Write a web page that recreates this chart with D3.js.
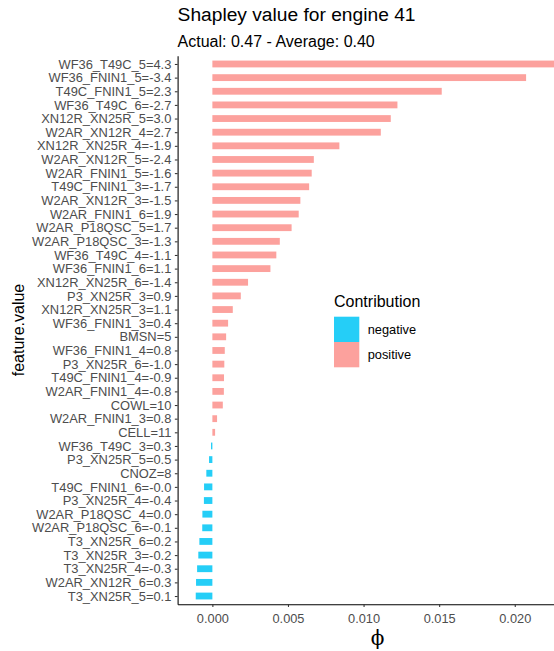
<!DOCTYPE html>
<html>
<head>
<meta charset="utf-8">
<script src="https://cdn.jsdelivr.net/npm/d3@7"></script>
<style>
  html, body { margin: 0; padding: 0; background: #fff; }
  svg { display: block; font-family: "Liberation Sans", Arial, Helvetica, sans-serif; }
</style>
</head>
<body>
<svg id="chart" width="554" height="651"></svg>
<script>
// Feature labels, top to bottom
const features = [
  "WF36_T49C_5=4.3", "WF36_FNIN1_5=-3.4", "T49C_FNIN1_5=2.3", "WF36_T49C_6=-2.7",
  "XN12R_XN25R_5=3.0", "W2AR_XN12R_4=2.7", "XN12R_XN25R_4=-1.9", "W2AR_XN12R_5=-2.4",
  "W2AR_FNIN1_5=-1.6", "T49C_FNIN1_3=-1.7", "W2AR_XN12R_3=-1.5", "W2AR_FNIN1_6=1.9",
  "W2AR_P18QSC_5=1.7", "W2AR_P18QSC_3=-1.3", "WF36_T49C_4=-1.1", "WF36_FNIN1_6=1.1",
  "XN12R_XN25R_6=-1.4", "P3_XN25R_3=0.9", "XN12R_XN25R_3=1.1", "WF36_FNIN1_3=0.4",
  "BMSN=5", "WF36_FNIN1_4=0.8", "P3_XN25R_6=-1.0", "T49C_FNIN1_4=-0.9",
  "W2AR_FNIN1_4=-0.8", "COWL=10", "W2AR_FNIN1_3=0.8", "CELL=11",
  "WF36_T49C_3=0.3", "P3_XN25R_5=0.5", "CNOZ=8", "T49C_FNIN1_6=-0.0",
  "P3_XN25R_4=-0.4", "W2AR_P18QSC_4=0.0", "W2AR_P18QSC_6=-0.1", "T3_XN25R_6=0.2",
  "T3_XN25R_3=-0.2", "T3_XN25R_4=-0.3", "W2AR_XN12R_6=0.3", "T3_XN25R_5=0.1"
];

// Shapley value (phi) of each feature, same order
const phi = [
  0.0228, 0.02075, 0.01517, 0.01224,
  0.01180, 0.01114, 0.00840, 0.00671,
  0.00657, 0.00640, 0.00582, 0.00571,
  0.00524, 0.00446, 0.00423, 0.00384,
  0.00236, 0.00188, 0.00135, 0.00104,
  0.00091, 0.00082, 0.00079, 0.00077,
  0.00076, 0.00069, 0.00031, 0.00018,
  -0.00009, -0.00022, -0.00040, -0.00055,
  -0.00056, -0.00066, -0.00067, -0.00086,
  -0.00093, -0.00101, -0.00108, -0.00110
];

const xTicks = [0, 0.005, 0.010, 0.015, 0.020];
const contributionLevels = ["negative", "positive"];
const contributionColors = ["#25CEF7", "#FCA19D"];

const titleText = "Shapley value for engine 41";
const subtitleText = "Actual: 0.47 - Average: 0.40";

const rows = features.map((f, i) => ({
  feature: f,
  phi: phi[i],
  contribution: phi[i] < 0 ? "negative" : "positive"
}));

const panel = { left: 177.6, right: 577.5, top: 55.8, bottom: 604.2 };

const svg = d3.select("#chart");

const x = d3.scaleLinear()
  .domain([-0.0023, 0.02415])
  .range([panel.left, panel.right]);

const y = d3.scalePoint()
  .domain(features)
  .range([panel.top, panel.bottom])
  .padding(0.6);

const barH = y.step() * 0.5;

const color = d3.scaleOrdinal()
  .domain(contributionLevels)
  .range(contributionColors);

// clip to the panel
svg.append("defs").append("clipPath").attr("id", "panelClip")
  .append("rect")
  .attr("x", panel.left).attr("y", panel.top)
  .attr("width", panel.right - panel.left)
  .attr("height", panel.bottom - panel.top);

// bars
svg.append("g")
  .attr("clip-path", "url(#panelClip)")
  .selectAll("rect")
  .data(rows)
  .join("rect")
  .attr("x", d => x(Math.min(0, d.phi)))
  .attr("width", d => Math.abs(x(d.phi) - x(0)))
  .attr("y", d => y(d.feature) - barH / 2)
  .attr("height", barH)
  .attr("fill", d => color(d.contribution));

// x axis
const xAxis = svg.append("g")
  .attr("transform", `translate(0,${panel.bottom})`)
  .call(d3.axisBottom(x).tickValues(xTicks).tickFormat(d3.format(".3f"))
    .tickSize(2.75).tickPadding(6.5).tickSizeOuter(0));
xAxis.select(".domain").attr("stroke", "#000").attr("stroke-width", 1.07);
xAxis.selectAll(".tick line").attr("stroke", "#333").attr("stroke-width", 1.07);
xAxis.selectAll(".tick text")
  .attr("fill", "#4D4D4D")
  .style("font-size", "12.8px");

// y axis
const yAxis = svg.append("g")
  .attr("transform", `translate(${panel.left},0)`)
  .call(d3.axisLeft(y).tickSize(2.75).tickPadding(3.5).tickSizeOuter(0));
yAxis.select(".domain").attr("stroke", "#000").attr("stroke-width", 1.07);
yAxis.selectAll(".tick line").attr("stroke", "#333").attr("stroke-width", 1.07);
yAxis.selectAll(".tick text")
  .attr("fill", "#4D4D4D")
  .style("font-size", "12.9px");

// titles
svg.append("text")
  .attr("x", panel.left).attr("y", 21)
  .attr("fill", "#000")
  .style("font-size", "19.2px")
  .text(titleText);

svg.append("text")
  .attr("x", panel.left).attr("y", 46.5)
  .attr("fill", "#000")
  .style("font-size", "16px")
  .text(subtitleText);

// axis titles
svg.append("text")
  .attr("x", (panel.left + panel.right) / 2).attr("y", 645)
  .attr("text-anchor", "middle")
  .attr("fill", "#000")
  .style("font-family", "'DejaVu Serif', serif")
  .style("font-size", "20px")
  .text("\u03D5");

svg.append("text")
  .attr("transform", `translate(24,${(panel.top + panel.bottom) / 2}) rotate(-90)`)
  .attr("text-anchor", "middle")
  .attr("fill", "#000")
  .style("font-size", "16px")
  .text("feature.value");

// legend
const legend = svg.append("g").attr("transform", "translate(334,0)");
legend.append("text")
  .attr("x", 0).attr("y", 307)
  .attr("fill", "#000")
  .style("font-size", "16px")
  .text("Contribution");

const keySize = 25.3;
const keyTop = 316.7;
contributionLevels.forEach((lvl, i) => {
  legend.append("rect")
    .attr("x", 0).attr("y", keyTop + i * keySize)
    .attr("width", keySize).attr("height", keySize)
    .attr("fill", color(lvl));
  legend.append("text")
    .attr("x", keySize + 8.4)
    .attr("y", keyTop + i * keySize + keySize / 2)
    .attr("dy", "0.35em")
    .attr("fill", "#000")
    .style("font-size", "12.8px")
    .text(lvl);
});
</script>
</body>
</html>
